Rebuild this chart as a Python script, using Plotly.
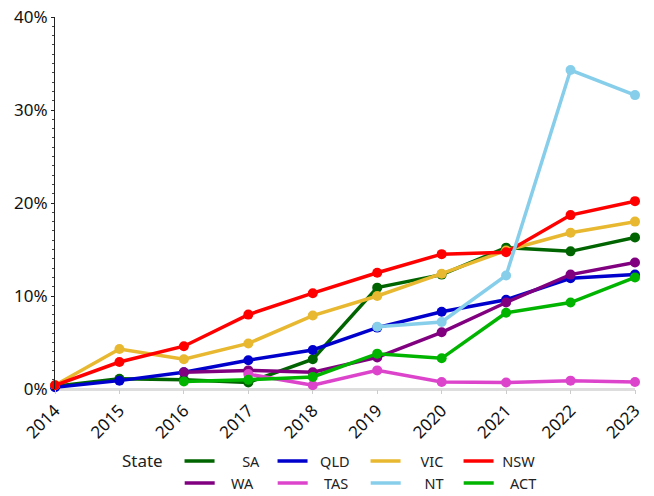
import plotly.graph_objects as go

years = [2014, 2015, 2016, 2017, 2018, 2019, 2020, 2021, 2022, 2023]

# share of each state, percent (None = no value that year)
sa = [0.3, 1.1, 1.0, 0.7, 3.2, 10.9, 12.3, 15.2, 14.8, 16.3]
qld = [0.2, 0.9, 1.8, 3.1, 4.2, 6.6, 8.3, 9.6, 11.9, 12.3]
vic = [0.4, 4.3, 3.2, 4.9, 7.9, 10.0, 12.4, 14.9, 16.8, 18.0]
nsw = [0.4, 2.9, 4.6, 8.0, 10.3, 12.5, 14.5, 14.7, 18.7, 20.2]
wa = [None, None, 1.8, 2.0, 1.8, 3.4, 6.1, 9.3, 12.3, 13.6]
tas = [None, None, None, 1.6, 0.4, 2.0, 0.75, 0.7, 0.9, 0.75]
nt = [None, None, None, None, None, 6.7, 7.2, 12.2, 34.3, 31.6]
act = [None, None, 0.8, 1.0, 1.3, 3.8, 3.3, 8.2, 9.3, 12.0]

states = ["SA", "QLD", "VIC", "NSW", "WA", "TAS", "NT", "ACT"]
values = [sa, qld, vic, nsw, wa, tas, nt, act]
colors = ["#006400", "#0000CD", "#E8B830", "#FF0000",
          "#800080", "#DD44CC", "#87CEEB", "#00B400"]
# non-breaking spaces to push legend text right (right-aligned look)
pad = {"SA": 6, "QLD": 2, "VIC": 4, "NSW": 1, "WA": 3, "TAS": 3, "NT": 5, "ACT": 3}
# first row of the legend in "legend", second row in "legend2"
row = {"SA": "legend", "QLD": "legend", "VIC": "legend", "NSW": "legend",
       "WA": "legend2", "TAS": "legend2", "NT": "legend2", "ACT": "legend2"}

font = "Noto Sans"

fig = go.Figure()
for name, vals, color in zip(states, values, colors):
    # line drawn with the legend entry, markers separately so the legend shows a bare line
    fig.add_trace(
        go.Scatter(
            x=years,
            y=vals,
            name="\u00a0" * pad[name] + name,
            mode="lines",
            line=dict(color=color, width=3.5),
            legendgroup=name,
            legend=row[name],
            cliponaxis=False,
        )
    )
    fig.add_trace(
        go.Scatter(
            x=years,
            y=vals,
            name=name,
            mode="markers",
            marker=dict(size=10, color=color),
            legendgroup=name,
            legend=row[name],
            showlegend=False,
            cliponaxis=False,
        )
    )

leg_common = dict(
    orientation="h",
    xanchor="left",
    yanchor="top",
    entrywidth=48,
    tracegroupgap=0,
    font=dict(size=14.5, color="#222"),
    bgcolor="rgba(0,0,0,0)",
)

fig.update_layout(
    width=646,
    height=488,
    margin=dict(l=47, r=19, t=9, b=107, autoexpand=False),
    paper_bgcolor="white",
    plot_bgcolor="white",
    font=dict(family=font, size=17, color="#222"),
    legend=dict(x=0.112, y=-0.151,
                title=dict(text="State\u00a0\u00a0", side="left"), **leg_common),
    legend2=dict(x=0.215, y=-0.21, **leg_common),
    showlegend=True,
)
fig.update_xaxes(
    range=[2014, 2023],
    tickvals=years,
    tickangle=-45,
    ticks="outside",
    ticklen=4,
    tickcolor="#ccc",
    showgrid=False,
    showline=False,
    zeroline=False,
    automargin=False,
    tickfont=dict(size=17, color="#111"),
)
fig.update_yaxes(
    range=[0, 40],
    dtick=10,
    ticksuffix="%",
    showgrid=False,
    showline=True,
    linecolor="#222",
    linewidth=1,
    ticks="outside",
    ticklen=3,
    tickcolor="#222",
    minor=dict(dtick=1, ticks="outside", ticklen=2, tickcolor="#444"),
    zeroline=True,
    zerolinecolor="#dddddd",
    zerolinewidth=3,
    automargin=False,
    ticklabeloverflow="allow",
    tickfont=dict(size=17, color="#111"),
)

fig.write_html("out.html")
